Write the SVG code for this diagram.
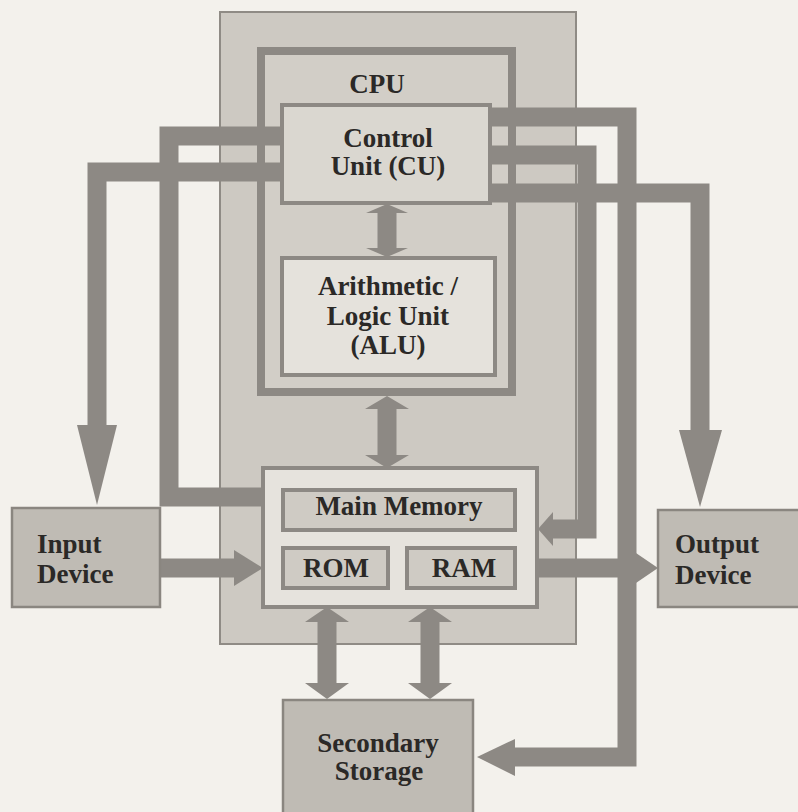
<svg xmlns="http://www.w3.org/2000/svg" width="798" height="812" viewBox="0 0 798 812">
<style>
.lbl{font-family:"Liberation Serif","Times New Roman",serif;font-weight:bold;font-size:27px;fill:#2b2927}
.c{text-anchor:middle}
.bar{fill:none;stroke:#8d8984;stroke-width:19;stroke-linejoin:miter;stroke-linecap:butt}
.head{fill:#8d8984}
.dev{fill:#bfbbb4;stroke:#8a8680;stroke-width:2.5}
.unit{stroke:#8d8984;stroke-width:4}
</style>
<rect width="798" height="812" fill="#f3f1ec"/>
<g id="system">
<rect x="220" y="12" width="356" height="632" fill="#cdc9c2" stroke="#8f8b85" stroke-width="2"/>
</g>
<g id="cpu">
<rect x="261" y="51" width="251" height="341" fill="#d2cec7" stroke="#8d8984" stroke-width="8"/>
<text class="lbl c" x="377" y="93">CPU</text>
</g>
<g id="connectors">
<path class="bar" d="M284,172 H97 V426"/>
<polygon class="head" points="77,425 117,425 97,505"/>
<path class="bar" d="M284,136 H169 V497 H265"/>
<path class="bar" d="M488,117 H627 V757 H514"/>
<polygon class="head" points="515,739 515,776 477,757"/>
<path class="bar" d="M488,155 H587 V529 H551"/>
<polygon class="head" points="553,512 553,546 538,529"/>
<path class="bar" d="M488,193 H700 V431"/>
<polygon class="head" points="679,430 722,430 700,507"/>
<path class="bar" d="M160,568 H235"/>
<polygon class="head" points="234,550 234,586 263,568"/>
<path class="bar" d="M537,568 H634"/>
<polygon class="head" points="633,551 633,585 658,568"/>
<path class="bar" d="M387,210 V252"/>
<polygon class="head" points="366,213 408,213 387,204"/>
<polygon class="head" points="366,248 408,248 387,257"/>
<path class="bar" d="M387,404 V460"/>
<polygon class="head" points="365,409 409,409 387,396"/>
<polygon class="head" points="365,455 409,455 387,468"/>
<path class="bar" d="M327,615 V690"/>
<polygon class="head" points="305,622 349,622 327,607"/>
<polygon class="head" points="305,683 349,683 327,699"/>
<path class="bar" d="M430,615 V690"/>
<polygon class="head" points="408,622 452,622 430,607"/>
<polygon class="head" points="408,683 452,683 430,699"/>
</g>
<g id="control-unit">
<rect class="unit" x="282" y="105" width="208" height="98" fill="#dad7d0"/>
<text class="lbl c" x="388" y="147">Control</text>
<text class="lbl c" x="388" y="175">Unit (CU)</text>
</g>
<g id="alu">
<rect class="unit" x="282" y="258" width="213" height="117" fill="#e5e2dc"/>
<text class="lbl c" x="388" y="295">Arithmetic /</text>
<text class="lbl c" x="388" y="325">Logic Unit</text>
<text class="lbl c" x="388" y="354">(ALU)</text>
</g>
<g id="memory">
<rect class="unit" x="263" y="468" width="274" height="139" fill="#e6e3dd"/>
<g id="main-memory">
<rect class="unit" x="283" y="490" width="232" height="40" fill="#cfcbc4"/>
<text class="lbl c" x="399" y="515">Main Memory</text>
</g>
<g id="rom">
<rect class="unit" x="283" y="548" width="105" height="40" fill="#cfcbc4"/>
<text class="lbl c" x="336" y="577">ROM</text>
</g>
<g id="ram">
<rect class="unit" x="407" y="548" width="108" height="40" fill="#cfcbc4"/>
<text class="lbl c" x="464" y="577">RAM</text>
</g>
</g>
<g id="input-device">
<rect class="dev" x="12" y="508" width="148" height="99"/>
<text class="lbl" x="37" y="553">Input</text>
<text class="lbl" x="37" y="583">Device</text>
</g>
<g id="output-device">
<rect class="dev" x="658" y="510" width="145" height="97"/>
<text class="lbl" x="675" y="553">Output</text>
<text class="lbl" x="675" y="584">Device</text>
</g>
<g id="secondary-storage">
<rect class="dev" x="283" y="700" width="190" height="120"/>
<text class="lbl c" x="378" y="752">Secondary</text>
<text class="lbl c" x="379" y="780">Storage</text>
</g>
</svg>
